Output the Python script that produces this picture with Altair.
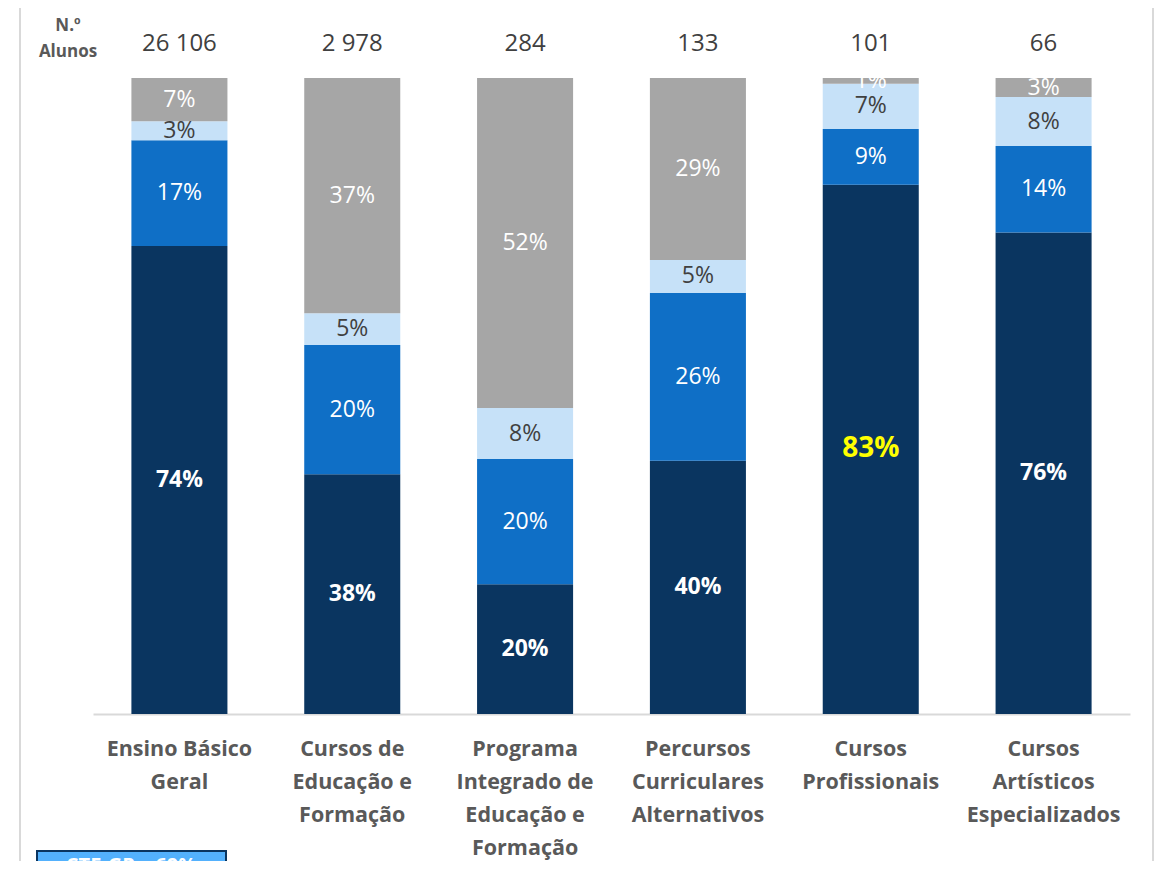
import altair as alt
import pandas as pd

categories = ["Ensino Básico|Geral", "Cursos de|Educação e|Formação",
              "Programa|Integrado de|Educação e|Formação",
              "Percursos|Curriculares|Alternativos", "Cursos|Profissionais",
              "Cursos|Artísticos|Especializados"]
n_alunos = ["26 106", "2 978", "284", "133", "101", "66"]
series = ["Nível 1", "Nível 2", "Nível 3", "Nível 4"]
nivel1 = [73.6, 37.7, 20.4, 39.8, 83.2, 75.7]
nivel2 = [16.6, 20.3, 19.7, 26.4, 8.8, 13.6]
nivel3 = [3.0, 5.0, 8.0, 5.2, 7.1, 7.7]
nivel4 = [6.8, 37.0, 51.9, 28.6, 0.9, 3.0]
colors = ["#0A3560", "#0F6FC6", "#C6E1F8", "#A6A6A6"]

rows = []
for s_i, (s, vals) in enumerate(zip(series, [nivel1, nivel2, nivel3, nivel4])):
    for c, v in zip(categories, vals):
        rows.append({"cat": c, "series": s, "ord": s_i, "value": v})
df = pd.DataFrame(rows)
df_n = pd.DataFrame({"cat": categories, "n": n_alunos})

FONT = "Open Sans"
xenc = alt.X("cat:N", sort=categories,
             scale=alt.Scale(paddingInner=0.4444, paddingOuter=0.2222),
             axis=alt.Axis(title=None, labelExpr="split(datum.label, '|')",
                           labelAngle=0, labelFont=FONT, labelFontSize=21.5,
                           labelFontWeight="bold", labelColor="#595959",
                           labelLineHeight=33, labelPadding=24, labelLimit=400,
                           ticks=False, domainColor="#D9D9D9", domainWidth=2))
yscale = alt.Scale(domain=[0, 100])

base = alt.Chart(df)
bars = base.mark_bar().encode(
    x=xenc,
    y=alt.Y("value:Q", stack="zero", scale=yscale, axis=None),
    color=alt.Color("series:N", scale=alt.Scale(domain=series, range=colors), legend=None),
    order=alt.Order("ord:Q"),
)

stacked = base.transform_stack(
    stack="value", groupby=["cat"], as_=["y0", "y1"],
    sort=[alt.SortField("ord", order="ascending")]
).transform_calculate(
    mid="(datum.y0 + datum.y1) / 2",
    lbl="format(datum.value, '.0f') + '%'",
    tcolor="datum.ord == 2 ? '#404040' : (datum.ord == 0 && datum.cat == 'Cursos|Profissionais' ? '#FFFF00' : '#FFFFFF')",
    tsize="datum.ord == 0 && datum.cat == 'Cursos|Profissionais' ? 28 : 23",
)

txt_normal = stacked.transform_filter("datum.ord > 0").mark_text(
    font=FONT, baseline="middle").encode(
    x=alt.X("cat:N", sort=categories),
    y=alt.Y("mid:Q", scale=yscale),
    text="lbl:N",
    color=alt.Color("tcolor:N", scale=None),
    size=alt.Size("tsize:Q", scale=None),
)
txt_bold = stacked.transform_filter("datum.ord == 0").mark_text(
    font=FONT, fontWeight="bold", baseline="middle").encode(
    x=alt.X("cat:N", sort=categories),
    y=alt.Y("mid:Q", scale=yscale),
    text="lbl:N",
    color=alt.Color("tcolor:N", scale=None),
    size=alt.Size("tsize:Q", scale=None),
)

counts = alt.Chart(df_n).mark_text(font=FONT, fontSize=24, color="#404040",
                                   baseline="middle").encode(
    x=alt.X("cat:N", sort=categories),
    y=alt.value(-34),
    text="n:N",
)

one = pd.DataFrame({"t": ["N.º\nAlunos"]})
nalunos_lbl = alt.Chart(one).mark_text(font=FONT, fontSize=17, fontWeight="bold",
                                       color="#595959", lineBreak="\n",
                                       lineHeight=26, baseline="top").encode(
    x=alt.value(-25), y=alt.value(-60), text="t:N")

frame = alt.Chart(one).mark_rect(filled=False, stroke="#D9D9D9", strokeWidth=2).encode(
    x=alt.value(-73), x2=alt.value(1060), y=alt.value(-72), y2=alt.value(900))

box = alt.Chart(one).mark_rect(fill="#53B1FD", stroke="#0A3560", strokeWidth=2).encode(
    x=alt.value(-56), x2=alt.value(133), y=alt.value(773), y2=alt.value(830))
box_txt = alt.Chart(pd.DataFrame({"t": ["CTE-GP – 69%"]})).mark_text(
    font=FONT, fontSize=20, fontWeight="bold", color="white", baseline="top").encode(
    x=alt.value(38), y=alt.value(778), text="t:N")

chart = alt.layer(frame, bars, txt_normal, txt_bold, counts, nalunos_lbl, box, box_txt).properties(
    width=1037, height=636,
    autosize=alt.AutoSizeParams(type="none"),
    padding={"left": 85, "top": 70, "right": 25, "bottom": 147},
).configure_view(stroke=None)

chart.save("out.html", embed_options={"renderer": "svg", "actions": False})
